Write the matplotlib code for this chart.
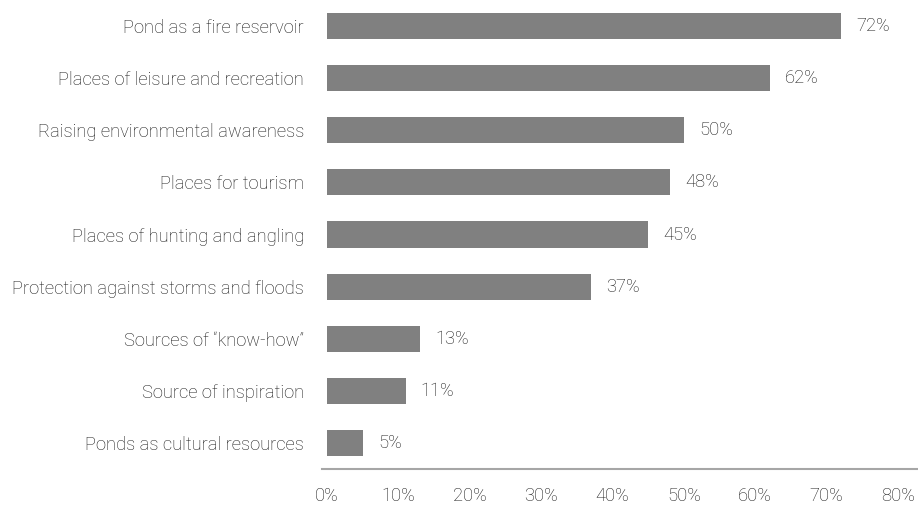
import matplotlib
matplotlib.use("Agg")
import matplotlib.pyplot as plt

categories = [
    "Pond as a fire reservoir",
    "Places of leisure and recreation",
    "Raising environmental awareness",
    "Places for tourism",
    "Places of hunting and angling",
    "Protection against storms and floods",
    "Sources of \u201cknow-how\u201d",
    "Source of inspiration",
    "Ponds as cultural resources",
]
values = [72, 62, 50, 48, 45, 37, 13, 11, 5]
xticks = [0, 10, 20, 30, 40, 50, 60, 70, 80]
xtick_labels = [f"{t}%" for t in xticks]

plt.rcParams['font.family'] = ['Roboto', 'DejaVu Sans']
plt.rcParams['font.weight'] = 'light'

text_color = '#1a1a1a'
fs = 13.2
fig = plt.figure(figsize=(9.18, 5.09), dpi=100)
ax = fig.add_axes([322/918, 40/509, 1 - 322/918, 469/509])

y = list(range(len(categories)))
ax.barh(y, values, height=0.5, color='#808080')
for yi, v in zip(y, values):
    ax.annotate(f"{v}%", (v, yi), xytext=(11, 0), textcoords='offset points',
                va='center', ha='left', fontsize=fs, color=text_color, fontweight='light')

ax.set_ylim(8.5, -0.5)
ax.set_xlim(-0.7, 82.8)
ax.set_yticks(y)
ax.set_yticklabels(categories, fontsize=fs, color=text_color, fontweight='light')
ax.set_xticks(xticks)
ax.set_xticklabels(xtick_labels, fontsize=fs, color=text_color, fontweight='light')
ax.tick_params(axis='y', length=0, pad=13)
ax.tick_params(axis='x', length=0, pad=13)
for s in ['top', 'right', 'left']:
    ax.spines[s].set_visible(False)
ax.spines['bottom'].set_color('#a6a6a6')
ax.spines['bottom'].set_linewidth(1.5)

fig.savefig("out.png", dpi=100)
